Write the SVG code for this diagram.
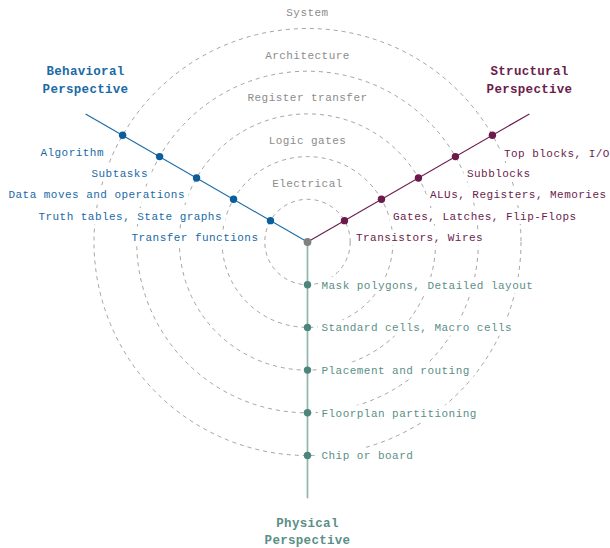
<svg xmlns="http://www.w3.org/2000/svg" width="610" height="548" viewBox="0 0 610 548">
  <style>
    .ring { fill: none; stroke: #8c8c8c; stroke-width: 0.8; stroke-dasharray: 4 4; }
    .lvl { font-family: "Liberation Mono", "DejaVu Sans Mono", monospace; font-size: 11px; letter-spacing: 0.46px; fill: #8c8c8c; text-anchor: middle; }
    .lbl { font-family: "Liberation Mono", "DejaVu Sans Mono", monospace; font-size: 11px; letter-spacing: 0.46px; }
    .head { font-family: "Liberation Mono", "DejaVu Sans Mono", monospace; font-size: 12.5px; font-weight: bold; letter-spacing: 0.3px; text-anchor: middle; }
    .bg { fill: #ffffff; }
    .beh { fill: #1a6aa6; }
    .str { fill: #6b1d4d; }
    .phy { fill: #5b8f87; }
    .end { text-anchor: end; }
    .dot-beh { fill: #0b5d9b; }
    .dot-str { fill: #6b1a4a; }
    .dot-phy { fill: #4d857c; }
  </style>
  <rect width="610" height="548" fill="#ffffff"/>

  <!-- abstraction levels: concentric dashed rings centred on the origin -->
  <g id="levels">
    <g id="level-electrical">
      <circle class="ring" cx="307.5" cy="242" r="42.7"/>
      <text class="lvl" x="307.5" y="186.6">Electrical</text>
    </g>
    <g id="level-logic">
      <circle class="ring" cx="307.5" cy="242" r="85.4"/>
      <text class="lvl" x="307.5" y="143.9">Logic gates</text>
    </g>
    <g id="level-rt">
      <circle class="ring" cx="307.5" cy="242" r="128.1"/>
      <text class="lvl" x="307.5" y="101.2">Register transfer</text>
    </g>
    <g id="level-arch">
      <circle class="ring" cx="307.5" cy="242" r="170.8"/>
      <text class="lvl" x="307.5" y="58.5">Architecture</text>
    </g>
    <g id="level-system">
      <circle class="ring" cx="307.5" cy="242" r="213.5"/>
      <text class="lvl" x="307.5" y="15.8">System</text>
    </g>
  </g>

  <!-- the three axes -->
  <g id="connectors">
    <line x1="307.5" y1="242" x2="85.6" y2="113.9" stroke="#1a6aa6" stroke-width="1.1"/>
    <line x1="307.5" y1="242" x2="529.4" y2="113.9" stroke="#6b1d4d" stroke-width="1.1"/>
    <line x1="307.5" y1="242" x2="307.5" y2="498.2" stroke="#8fb5ae" stroke-width="1.7"/>
  </g>

  <!-- behavioral axis -->
  <g id="beh-transfer">
    <rect class="bg" x="127.9" y="229.5" width="134.1" height="16"/>
    <text class="lbl beh end" x="258.5" y="241">Transfer functions</text>
    <circle class="dot-beh" cx="270.5" cy="220.65" r="3.7"/>
  </g>
  <g id="beh-truth">
    <rect class="bg" x="34.9" y="208" width="190.6" height="16"/>
    <text class="lbl beh end" x="222" y="219.5">Truth tables, State graphs</text>
    <circle class="dot-beh" cx="233.54" cy="199.3" r="3.7"/>
  </g>
  <g id="beh-data">
    <rect class="bg" x="5" y="186.5" width="183.5" height="16"/>
    <text class="lbl beh end" x="185" y="198">Data moves and operations</text>
    <circle class="dot-beh" cx="196.56" cy="177.95" r="3.7"/>
  </g>
  <g id="beh-subtasks">
    <rect class="bg" x="88" y="165.5" width="63.5" height="16"/>
    <text class="lbl beh end" x="148" y="177">Subtasks</text>
    <circle class="dot-beh" cx="159.59" cy="156.6" r="3.7"/>
  </g>
  <g id="beh-algorithm">
    <rect class="bg" x="37" y="144.5" width="70.5" height="16"/>
    <text class="lbl beh end" x="104" y="156">Algorithm</text>
    <circle class="dot-beh" cx="122.6" cy="135.25" r="3.7"/>
  </g>

  <!-- structural axis -->
  <g id="str-transistors">
    <rect class="bg" x="352.5" y="229.5" width="134.1" height="16"/>
    <text class="lbl str" x="356" y="241">Transistors, Wires</text>
    <circle class="dot-str" cx="344.48" cy="220.65" r="3.7"/>
  </g>
  <g id="str-gates">
    <rect class="bg" x="389.5" y="208" width="190.6" height="16"/>
    <text class="lbl str" x="393" y="219.5">Gates, Latches, Flip-Flops</text>
    <circle class="dot-str" cx="381.46" cy="199.3" r="3.7"/>
  </g>
  <g id="str-alus">
    <rect class="bg" x="426.5" y="186.5" width="183.5" height="16"/>
    <text class="lbl str" x="430" y="198">ALUs, Registers, Memories</text>
    <circle class="dot-str" cx="418.44" cy="177.95" r="3.7"/>
  </g>
  <g id="str-subblocks">
    <rect class="bg" x="463.5" y="165.5" width="70.5" height="16"/>
    <text class="lbl str" x="467" y="177">Subblocks</text>
    <circle class="dot-str" cx="455.41" cy="156.6" r="3.7"/>
  </g>
  <g id="str-top">
    <rect class="bg" x="500.5" y="145" width="112" height="16"/>
    <text class="lbl str" x="504" y="156.5">Top blocks, I/O</text>
    <circle class="dot-str" cx="492.4" cy="135.25" r="3.7"/>
  </g>

  <!-- physical axis -->
  <g id="phy-mask">
    <rect class="bg" x="318" y="277" width="219" height="16"/>
    <text class="lbl phy" x="321.5" y="288.5">Mask polygons, Detailed layout</text>
    <circle class="dot-phy" cx="307.5" cy="284.7" r="3.7"/>
  </g>
  <g id="phy-cells">
    <rect class="bg" x="318" y="319.7" width="197.6" height="16"/>
    <text class="lbl phy" x="321.5" y="331.2">Standard cells, Macro cells</text>
    <circle class="dot-phy" cx="307.5" cy="327.4" r="3.7"/>
  </g>
  <g id="phy-placement">
    <rect class="bg" x="318" y="362.5" width="155.3" height="16"/>
    <text class="lbl phy" x="321.5" y="374">Placement and routing</text>
    <circle class="dot-phy" cx="307.5" cy="370.1" r="3.7"/>
  </g>
  <g id="phy-floorplan">
    <rect class="bg" x="318" y="405.2" width="162.3" height="16"/>
    <text class="lbl phy" x="321.5" y="416.7">Floorplan partitioning</text>
    <circle class="dot-phy" cx="307.5" cy="412.8" r="3.7"/>
  </g>
  <g id="phy-chip">
    <rect class="bg" x="318" y="447.9" width="98.8" height="16"/>
    <text class="lbl phy" x="321.5" y="459.4">Chip or board</text>
    <circle class="dot-phy" cx="307.5" cy="455.5" r="3.7"/>
  </g>

  <!-- origin -->
  <g id="origin">
    <circle cx="307.5" cy="242" r="3.9" fill="#808080"/>
  </g>

  <!-- perspective titles -->
  <g id="title-behavioral">
    <text class="head beh" x="85.5" y="75">Behavioral</text>
    <text class="head beh" x="85.5" y="92.7">Perspective</text>
  </g>
  <g id="title-structural">
    <text class="head str" x="529.5" y="75">Structural</text>
    <text class="head str" x="529.5" y="92.7">Perspective</text>
  </g>
  <g id="title-physical">
    <text class="head phy" x="307.5" y="526.7">Physical</text>
    <text class="head phy" x="307.5" y="544.3">Perspective</text>
  </g>
</svg>
